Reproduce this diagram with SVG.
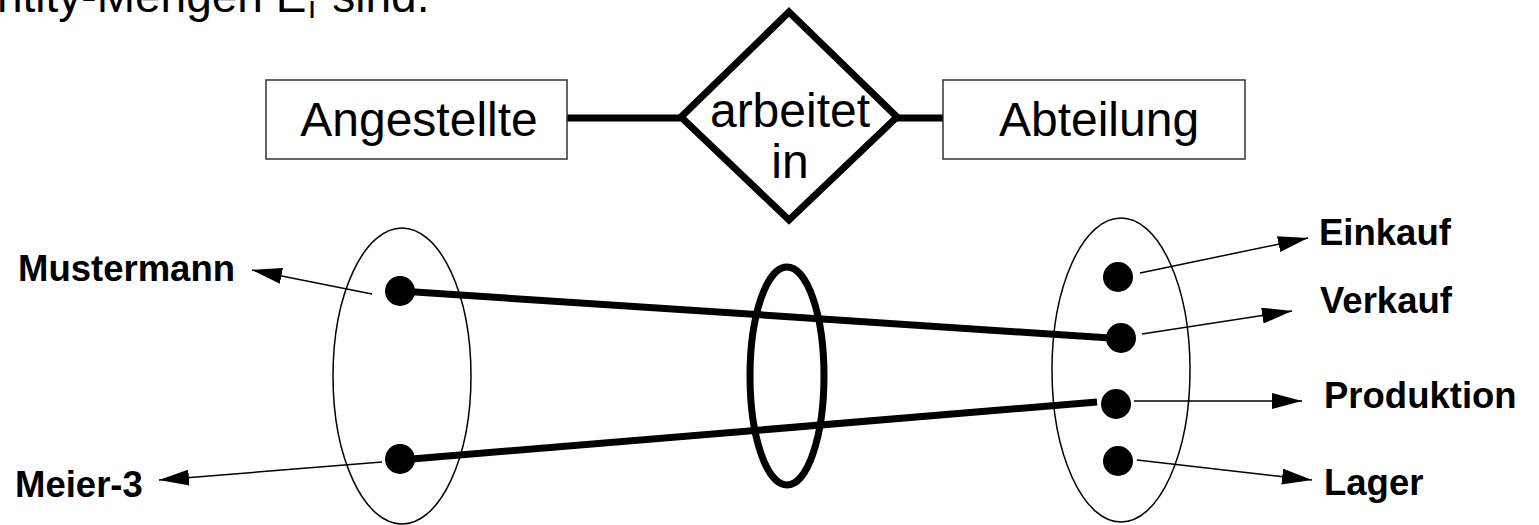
<svg xmlns="http://www.w3.org/2000/svg" width="1539" height="525" viewBox="0 0 1539 525">
  <style>
    .lbl { font-family: "Liberation Sans", Arial, sans-serif; font-size: 48px; fill: #000; }
    .big { font-family: "Liberation Sans", Arial, sans-serif; font-size: 46px; fill: #000; }
    .bold { font-family: "Liberation Sans", Arial, sans-serif; font-size: 36.5px; font-weight: bold; fill: #000; }
    .box { fill: #fff; stroke: #333; stroke-width: 1.5; }
    .thick { stroke: #000; stroke-width: 7; fill: none; }
    .thin { stroke: #000; stroke-width: 1.5; fill: none; }
    .set { fill: none; stroke: #000; stroke-width: 1.5; }
    .dot { fill: #000; }
  </style>
  <defs>
    <marker id="arr" viewBox="0 0 30 16" refX="30" refY="8" markerWidth="30" markerHeight="16" markerUnits="userSpaceOnUse" orient="auto">
      <path d="M0,0 L30,8 L0,16 z" fill="#000"/>
    </marker>
  </defs>
  <rect width="1539" height="525" fill="#fff"/>

  <g id="heading">
    <text class="big" x="-3" y="12">ntity-Mengen E<tspan font-size="32" dx="2" dy="6">i</tspan><tspan dx="4" dy="-6"> sind.</tspan></text>
  </g>

  <g id="connectors">
    <line class="thick" x1="567" y1="118" x2="681" y2="118"/>
    <line class="thick" x1="897" y1="118" x2="943" y2="118"/>
    <line class="thick" x1="400" y1="291" x2="1110" y2="338"/>
    <line class="thick" x1="400" y1="460" x2="1097" y2="402"/>
    <line class="thin" x1="372" y1="294" x2="252" y2="270" marker-end="url(#arr)"/>
    <line class="thin" x1="382" y1="462" x2="159" y2="480" marker-end="url(#arr)"/>
    <line class="thin" x1="1140" y1="273" x2="1308" y2="238" marker-end="url(#arr)"/>
    <line class="thin" x1="1142" y1="334" x2="1292" y2="311" marker-end="url(#arr)"/>
    <line class="thin" x1="1134" y1="401" x2="1302" y2="401" marker-end="url(#arr)"/>
    <line class="thin" x1="1137" y1="460" x2="1312" y2="480" marker-end="url(#arr)"/>
  </g>

  <g id="angestellte">
    <rect class="box" x="266" y="80" width="301" height="79"/>
    <text class="lbl" x="419" y="136" text-anchor="middle">Angestellte</text>
  </g>

  <g id="arbeitet-in">
    <polygon class="thick" points="789,12 897,117 789,220 681,117" style="fill:#fff"/>
    <text class="lbl" x="790" y="127" text-anchor="middle">arbeitet</text>
    <text class="lbl" x="790" y="178" text-anchor="middle">in</text>
  </g>

  <g id="abteilung">
    <rect class="box" x="943" y="80" width="302" height="79"/>
    <text class="lbl" x="1099" y="136" text-anchor="middle">Abteilung</text>
  </g>

  <g id="set-angestellte">
    <ellipse class="set" cx="402" cy="376" rx="69" ry="148"/>
    <circle class="dot" cx="400" cy="291" r="15"/>
    <circle class="dot" cx="400" cy="459" r="15"/>
  </g>

  <g id="set-relation">
    <ellipse class="thick" cx="787" cy="376" rx="37" ry="109"/>
  </g>

  <g id="set-abteilung">
    <ellipse class="set" cx="1121" cy="370" rx="69" ry="152"/>
    <circle class="dot" cx="1118" cy="277" r="15"/>
    <circle class="dot" cx="1121" cy="338" r="15"/>
    <circle class="dot" cx="1116" cy="404" r="15"/>
    <circle class="dot" cx="1118" cy="461" r="15"/>
  </g>

  <g id="labels">
    <text class="bold" x="18" y="281">Mustermann</text>
    <text class="bold" x="15" y="497">Meier-3</text>
    <text class="bold" x="1319" y="245">Einkauf</text>
    <text class="bold" x="1320" y="313">Verkauf</text>
    <text class="bold" x="1324" y="408">Produktion</text>
    <text class="bold" x="1324" y="495">Lager</text>
  </g>
</svg>
